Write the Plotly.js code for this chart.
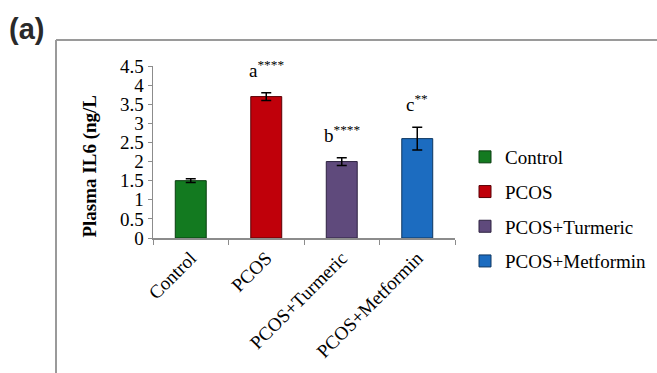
<!DOCTYPE html>
<html>
<head>
<meta charset="utf-8">
<script src="https://cdn.plot.ly/plotly-3.0.1.min.js"></script>
<style>
html,body{margin:0;padding:0;background:#fff;}
#chart{width:657px;height:373px;}
</style>
</head>
<body>
<div id="chart"></div>
<script>
var categories = ["Control", "PCOS", "PCOS+Turmeric", "PCOS+Metformin"];
var values = [1.5, 3.7, 2.0, 2.6];
var errors = [0.05, 0.1, 0.1, 0.3];
var sigLetters = ["", "a", "b", "c"];
var sigStars = ["", "****", "****", "**"];
var colors = ["#137a20", "#c0000a", "#5f4a7c", "#1c6cc0"];
var edgeColors = ["#0a3d10", "#5a0005", "#2e2340", "#0e3660"];
var yTicks = [0, 0.5, 1, 1.5, 2, 2.5, 3, 3.5, 4, 4.5];

var W = 657, H = 373;
var M = {l: 153, r: 202, t: 66, b: 135, autoexpand: false};
var pw = W - M.l - M.r, ph = H - M.t - M.b;
function px2x(p){ return (p - M.l) / pw; }
function px2y(p){ return (H - M.b - p) / ph; }

var serif = "Liberation Serif";

var traces = categories.map(function(c, i){
  return {
    type: "bar",
    name: c,
    x: [c],
    y: [values[i]],
    width: 0.41,
    marker: {color: colors[i], line: {color: edgeColors[i], width: 1}},
    error_y: {type: "data", array: [errors[i]], visible: true, color: "#000", thickness: 1.5, width: 5},
    legendgroup: "g" + i
  };
});

var annotations = [];
categories.forEach(function(c, i){
  if (sigLetters[i]) {
    annotations.push({
      x: c, y: values[i] + errors[i], xref: "x", yref: "y",
      text: sigLetters[i] + "<sup>" + sigStars[i] + "</sup>",
      showarrow: false, yanchor: "bottom", yshift: 10,
      font: {family: serif, size: 19, color: "#000"}
    });
  }
});
annotations.push({
  x: px2x(7), y: px2y(29), xref: "paper", yref: "paper",
  xanchor: "left", yanchor: "middle", showarrow: false,
  text: "<b>(a)</b>",
  font: {family: "Liberation Sans", size: 29, color: "#2a2a2a"}
});

var layout = {
  width: W, height: H,
  margin: M,
  font: {family: serif, size: 19, color: "#000"},
  paper_bgcolor: "#fff", plot_bgcolor: "#fff",
  barmode: "overlay",
  showlegend: true,
  legend: {
    x: px2x(465), y: px2y(138), xanchor: "left", yanchor: "top",
    font: {family: serif, size: 19, color: "#000"},
    tracegroupgap: 7, traceorder: "grouped",
    itemwidth: 30
  },
  xaxis: {
    type: "category",
    showline: true, linecolor: "#8c8c8c", linewidth: 1.5,
    ticks: "outside", tickson: "boundaries", ticklen: 5, tickcolor: "#8c8c8c",
    tickangle: -45,
    tickfont: {family: serif, size: 19, color: "#000"},
    showgrid: false, zeroline: false
  },
  yaxis: {
    range: [0, 4.5],
    tickvals: yTicks,
    ticktext: yTicks.map(String),
    showline: true, linecolor: "#8c8c8c", linewidth: 1.5,
    ticks: "outside", ticklen: 4, tickcolor: "#8c8c8c",
    tickfont: {family: serif, size: 19, color: "#000"},
    showgrid: false, zeroline: false,
    title: {text: "<b>Plasma IL6 (ng/L</b>&nbsp;&nbsp;&nbsp;&nbsp;&nbsp;&nbsp;", font: {family: serif, size: 19, color: "#000"}, standoff: 18}
  },
  annotations: annotations,
  shapes: [
    {type: "line", xref: "paper", yref: "paper", x0: px2x(56), x1: px2x(660), y0: px2y(40), y1: px2y(40), line: {color: "#9a9a9a", width: 2}},
    {type: "line", xref: "paper", yref: "paper", x0: px2x(56), x1: px2x(56), y0: px2y(40), y1: px2y(380), line: {color: "#9a9a9a", width: 2}}
  ]
};

Plotly.newPlot("chart", traces, layout, {displayModeBar: false, staticPlot: true});
</script>
</body>
</html>
